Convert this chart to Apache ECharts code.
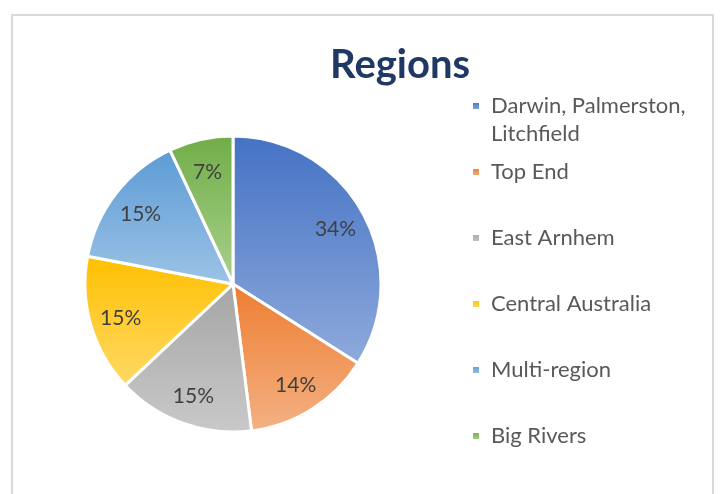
<!DOCTYPE html>
<html>
<head>
<meta charset="utf-8">
<script src="https://cdn.jsdelivr.net/npm/echarts@6/dist/echarts.min.js"></script>
<style>
  html, body { margin: 0; padding: 0; background: #fff; }
  #chart { width: 720px; height: 494px; }
</style>
</head>
<body>
<div id="chart"></div>
<script>
// regions and their share of the total (%)
const regions = [
  "Darwin, Palmerston, Litchfield",
  "Top End",
  "East Arnhem",
  "Central Australia",
  "Multi-region",
  "Big Rivers"
];
const shares = [34, 14, 15, 15, 15, 7];
// gradient top / bottom colour for each slice
const topColors = ["#4472c4", "#ed7d31", "#a5a5a5", "#ffc000", "#5b9bd5", "#70ad47"];
const bottomColors = ["#8faadc", "#f4b183", "#c9c9c9", "#ffd966", "#9dc3e6", "#a9d18e"];

const font = "Lato";

function grad(i) {
  return new echarts.graphic.LinearGradient(0, 0, 0, 1, [
    { offset: 0, color: topColors[i] },
    { offset: 1, color: bottomColors[i] }
  ]);
}

const pieData = regions.map((name, i) => ({
  name: name,
  value: shares[i],
  itemStyle: { color: grad(i) }
}));

const chart = echarts.init(document.getElementById("chart"));
chart.setOption({
  animation: false,
  title: {
    text: "Regions",
    left: 325,
    top: 40,
    textStyle: { fontFamily: font, fontWeight: "bold", fontSize: 40, color: "#1f3864" }
  },
  legend: [
    {
      // first entry wraps onto two lines; a blank line above keeps the icon on the first one
      data: [regions[0]],
      orient: "vertical",
      left: 466,
      top: 59,
      icon: "rect",
      itemWidth: 8,
      itemHeight: 8,
      formatter: n => "\n" + n.replace("Palmerston, ", "Palmerston,\n"),
      textStyle: { fontFamily: font, fontSize: 22, color: "#595959", lineHeight: 28, padding: [0, 0, 0, 6] }
    },
    {
      data: regions.slice(1),
      orient: "vertical",
      left: 466,
      top: 153,
      itemGap: 38,
      icon: "rect",
      itemWidth: 8,
      itemHeight: 8,
      textStyle: { fontFamily: font, fontSize: 22, color: "#595959", lineHeight: 28, padding: [0, 0, 0, 6] }
    }
  ],
  graphic: [
    {
      type: "rect",
      silent: true,
      shape: { x: 12, y: 15, width: 701, height: 500 },
      style: { fill: "none", stroke: "#d9d9d9", lineWidth: 2 }
    }
  ],
  series: [
    {
      type: "pie",
      center: [233, 284],
      radius: [0, 148],
      startAngle: 90,
      clockwise: true,
      silent: true,
      label: { show: false },
      labelLine: { show: false },
      itemStyle: { borderColor: "#fff", borderWidth: 3 },
      data: pieData
    },
    {
      // label ring only, so the percentages sit further out than the slice middle
      type: "pie",
      center: [233, 286],
      radius: [80, 148],
      startAngle: 90,
      clockwise: true,
      silent: true,
      legendHoverLink: false,
      itemStyle: { color: "transparent" },
      label: {
        show: true,
        position: "inside",
        formatter: "{c}%",
        fontFamily: font,
        fontSize: 21,
        color: "#404040"
      },
      labelLine: { show: false },
      data: regions.map((name, i) => ({ name: name, value: shares[i] }))
    }
  ]
});
</script>
</body>
</html>
